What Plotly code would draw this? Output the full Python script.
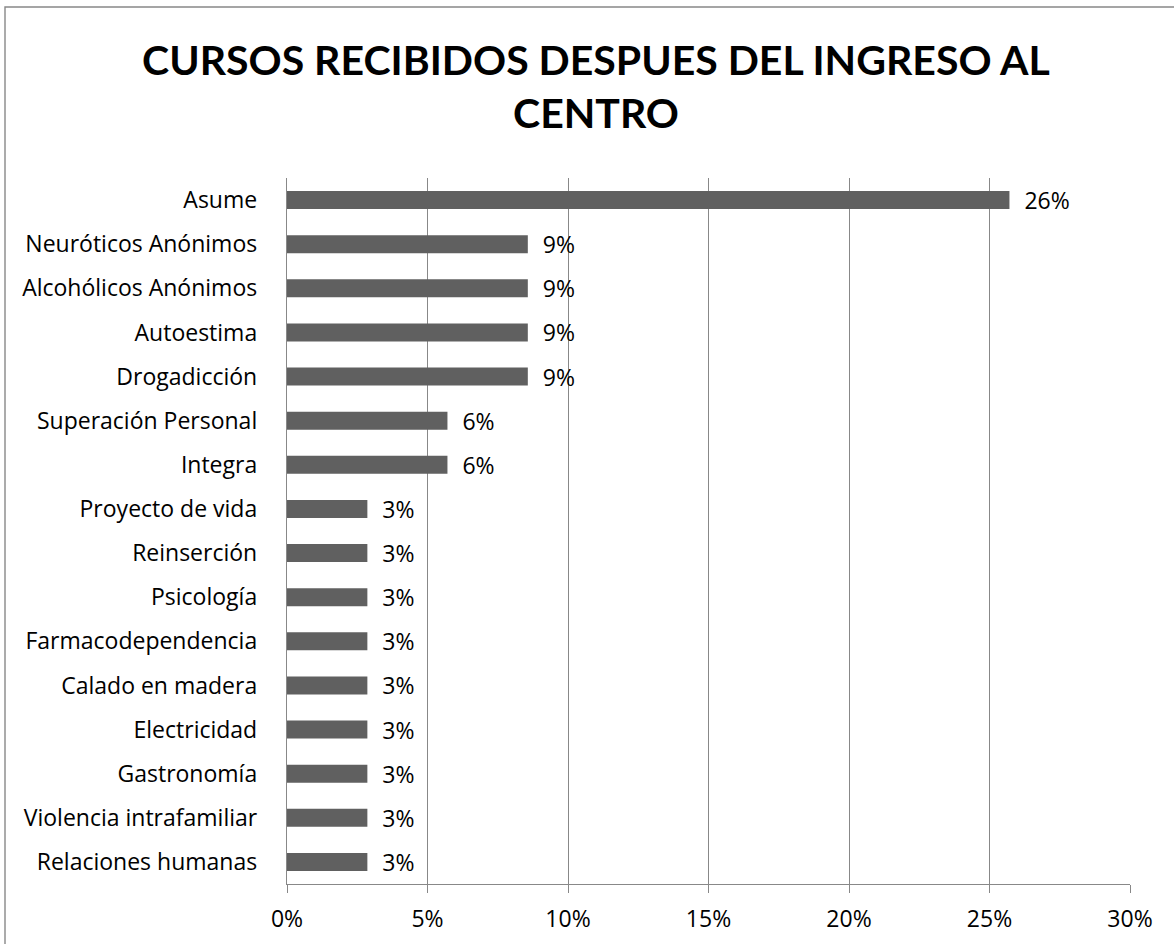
import plotly.graph_objects as go

categories = ["Asume", "Neuróticos Anónimos", "Alcohólicos Anónimos", "Autoestima",
              "Drogadicción", "Superación Personal", "Integra", "Proyecto de vida",
              "Reinserción", "Psicología", "Farmacodependencia", "Calado en madera",
              "Electricidad", "Gastronomía", "Violencia intrafamiliar", "Relaciones humanas"]
values = [0.2571, 0.0857, 0.0857, 0.0857, 0.0857, 0.0571, 0.0571, 0.0286,
          0.0286, 0.0286, 0.0286, 0.0286, 0.0286, 0.0286, 0.0286, 0.0286]
tick_vals = [0, 0.05, 0.10, 0.15, 0.20, 0.25, 0.30]
tick_text = ["0%", "5%", "10%", "15%", "20%", "25%", "30%"]
title_text = "CURSOS RECIBIDOS DESPUES DEL INGRESO AL<br>CENTRO"

FONT = "Open Sans"
TFONT = "Lato"
W, H = 1174, 944
L, R, T, B = 287, 44, 178, 60
GRID = "#888888"

fig = go.Figure(go.Bar(
    y=categories, x=values, orientation="h",
    marker=dict(color="#606060", line=dict(width=0)),
    width=0.41,
    text=["\u00a0\u00a0" + f"{round(v*100)}%" for v in values],
    textposition="outside", cliponaxis=False, constraintext="none",
    textfont=dict(family=FONT, size=23, color="#000000"),
    hoverinfo="skip",
))

fig.update_layout(
    width=W, height=H,
    margin=dict(l=L, r=R, t=T, b=B, autoexpand=False),
    paper_bgcolor="white", plot_bgcolor="white",
    showlegend=False,
    title=dict(text=title_text, x=596 / W, xref="container", xanchor="center",
               y=1 - 75 / H, yref="container", yanchor="middle",
               font=dict(family=TFONT, size=41, color="#000000", weight="bold")),
    xaxis=dict(range=[0, 0.30], tickvals=tick_vals, ticktext=tick_text,
               showgrid=True, gridcolor=GRID, gridwidth=1.4,
               showline=True, linecolor=GRID, linewidth=1.4,
               ticks="outside", ticklen=8, tickcolor=GRID, tickwidth=1.4,
               ticklabelstandoff=6,
               tickfont=dict(family=FONT, size=23, color="#000000"),
               zeroline=False, fixedrange=True),
    yaxis=dict(categoryorder="array", categoryarray=categories[::-1],
               showline=True, linecolor=GRID, linewidth=1.4,
               ticks="", showgrid=False,
               ticklabelstandoff=24,
               tickfont=dict(family=FONT, size=23, color="#000000"),
               fixedrange=True),
    shapes=[dict(type="rect", xref="paper", yref="paper",
                 x0=(5 - L) / (W - L - R), x1=(1200 - L) / (W - L - R),
                 y0=(H - B - 960) / (H - T - B), y1=(H - B - 7) / (H - T - B),
                 line=dict(color=GRID, width=1.4), layer="below")],
)

fig.write_html("out.html", config={"displayModeBar": False},
               post_script="document.body.style.margin='0';")
